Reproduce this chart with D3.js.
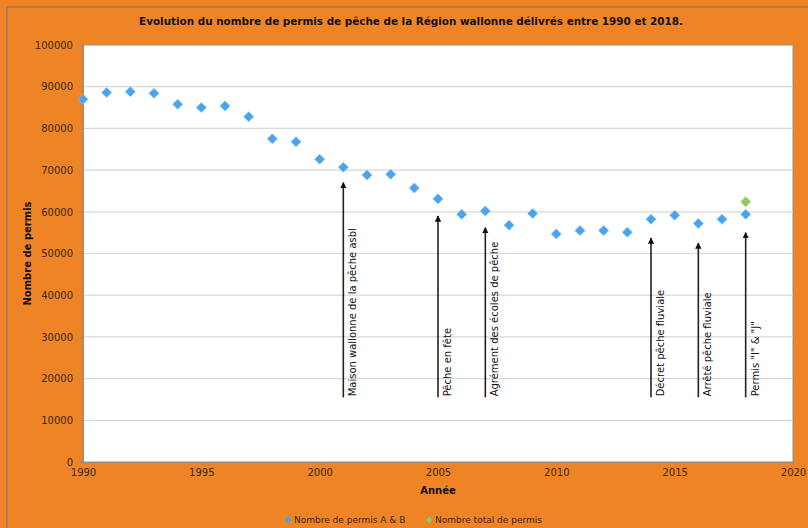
<html>
<head>
<meta charset="utf-8">
<script src="https://cdn.jsdelivr.net/npm/d3@7"></script>
<style>
  body { margin: 0; background: #ee8426; }
  text { font-family: "DejaVu Sans", sans-serif; }
</style>
</head>
<body>
<div id="chart"></div>
<script>
// annual values
var years = [1990,1991,1992,1993,1994,1995,1996,1997,1998,1999,2000,2001,2002,2003,2004,
             2005,2006,2007,2008,2009,2010,2011,2012,2013,2014,2015,2016,2017,2018];
var permisAB = [87000,88600,88800,88400,85800,85000,85400,82800,77500,76800,72600,70700,68800,69000,65700,
                63100,59400,60200,56800,59600,54700,55500,55500,55100,58200,59200,57200,58200,59400];
var totalYears = [2018];
var totalPermis = [62400];

// events drawn as arrows
var eventYears = [2001, 2005, 2007, 2014, 2016, 2018];
var eventLabels = ["Maison wallonne de la pêche asbl", "Pêche en fête", "Agrément des écoles de pêche",
                   "Décret pêche fluviale", "Arrêté pêche fluviale", "Permis \"I\" & \"J\""];
var eventTops = [67000, 59000, 56200, 53700, 52500, 55000];
var eventBase = 15500;

var yTicks = [0,10000,20000,30000,40000,50000,60000,70000,80000,90000,100000];
var xTicks = [1990,1995,2000,2005,2010,2015,2020];

var W = 808, H = 528;
var margin = {top: 45, right: 15, bottom: 66, left: 83};

var svg = d3.select("#chart").append("svg")
  .attr("width", W).attr("height", H);

svg.append("rect").attr("width", W).attr("height", H).attr("fill", "#ee8426");
// frame edges visible in the crop
svg.append("line").attr("x1", 7).attr("x2", W).attr("y1", 7).attr("y2", 7)
  .attr("stroke", "#9a7a5a").attr("stroke-width", 1.5);
svg.append("line").attr("x1", 7).attr("x2", 7).attr("y1", 7).attr("y2", H)
  .attr("stroke", "#9a7a5a").attr("stroke-width", 1.5);

var x = d3.scaleLinear().domain([1990, 2020]).range([margin.left, W - margin.right]);
var y = d3.scaleLinear().domain([0, 100000]).range([H - margin.bottom, margin.top]);

// plot area
svg.append("rect")
  .attr("x", x(1990)).attr("y", y(100000))
  .attr("width", x(2020) - x(1990)).attr("height", y(0) - y(100000))
  .attr("fill", "white").attr("stroke", "#a08a78").attr("stroke-width", 1);

// gridlines
svg.append("g").selectAll("line")
  .data(yTicks.filter(function(d) { return d > 0 && d < 100000; }))
  .enter().append("line")
    .attr("x1", x(1990)).attr("x2", x(2020))
    .attr("y1", function(d) { return y(d); }).attr("y2", function(d) { return y(d); })
    .attr("stroke", "#d8d8d8").attr("stroke-width", 1.2);

// axes
var yAxis = svg.append("g")
  .attr("transform", "translate(" + x(1990) + ",0)")
  .call(d3.axisLeft(y).tickValues(yTicks).tickSize(4).tickPadding(6).tickFormat(d3.format("d")));
var xAxis = svg.append("g")
  .attr("transform", "translate(0," + y(0) + ")")
  .call(d3.axisBottom(x).tickValues(xTicks).tickSize(3).tickPadding(4).tickFormat(d3.format("d")));
[yAxis, xAxis].forEach(function(a) {
  a.select(".domain").attr("stroke", "#a08a78");
  a.selectAll(".tick line").attr("stroke", "#a08a78");
  a.selectAll("text").attr("fill", "#3a2a1a").style("font-size", "10px").style("font-family", "DejaVu Sans");
});

// arrows
svg.append("defs").append("marker")
  .attr("id", "head").attr("viewBox", "0 0 10 10").attr("refX", 9).attr("refY", 5)
  .attr("markerWidth", 4).attr("markerHeight", 4).attr("orient", "auto")
  .append("path").attr("d", "M0,0 L10,5 L0,10 Z").attr("fill", "#111");

var ev = svg.append("g").selectAll("g")
  .data(eventYears.map(function(d, i) { return {year: d, label: eventLabels[i], top: eventTops[i]}; }))
  .enter().append("g");
ev.append("line")
  .attr("x1", function(d) { return x(d.year); }).attr("x2", function(d) { return x(d.year); })
  .attr("y1", y(eventBase)).attr("y2", function(d) { return y(d.top); })
  .attr("stroke", "#222").attr("stroke-width", 1.6)
  .attr("marker-end", "url(#head)");
ev.append("text")
  .attr("transform", function(d) { return "translate(" + (x(d.year) + 13) + "," + (y(eventBase) - 1) + ") rotate(-90)"; })
  .style("font-size", "10px").attr("fill", "#111")
  .text(function(d) { return d.label; });

// markers
function diamond(cx, cy, r) {
  return "M" + cx + "," + (cy - r) + "L" + (cx + r) + "," + cy + "L" + cx + "," + (cy + r) + "L" + (cx - r) + "," + cy + "Z";
}
svg.append("g").selectAll("path")
  .data(years.map(function(d, i) { return {year: d, v: permisAB[i]}; }))
  .enter().append("path")
    .attr("d", function(d) { return diamond(x(d.year), y(d.v), 5); })
    .attr("fill", "#4aa3ec").attr("stroke", "#7cc0f4").attr("stroke-width", 0.8);
svg.append("g").selectAll("path")
  .data(totalYears.map(function(d, i) { return {year: d, v: totalPermis[i]}; }))
  .enter().append("path")
    .attr("d", function(d) { return diamond(x(d.year), y(d.v), 5); })
    .attr("fill", "#8cc866").attr("stroke", "#a8d88a").attr("stroke-width", 0.8);

// title & axis titles
svg.append("text").attr("x", 411).attr("y", 25).attr("text-anchor", "middle")
  .style("font-size", "10.4px").style("font-weight", "bold").attr("fill", "#111")
  .text("Evolution du nombre de permis de pêche de la Région wallonne délivrés entre 1990 et 2018.");
svg.append("text").attr("x", 438).attr("y", 494).attr("text-anchor", "middle")
  .style("font-size", "10px").style("font-weight", "bold").attr("fill", "#111")
  .text("Année");
svg.append("text").attr("transform", "translate(31," + y(50000) + ") rotate(-90)")
  .attr("text-anchor", "middle")
  .style("font-size", "10px").style("font-weight", "bold").attr("fill", "#111")
  .text("Nombre de permis");

// legend
var legend = [{label: "Nombre de permis A & B", fill: "#4aa3ec", x: 288},
              {label: "Nombre total de permis", fill: "#8cc866", x: 429}];
var lg = svg.append("g").selectAll("g").data(legend).enter().append("g");
lg.append("path").attr("d", function(d) { return diamond(d.x, 520, 3.5); }).attr("fill", function(d) { return d.fill; });
lg.append("text").attr("x", function(d) { return d.x + 6; }).attr("y", 523)
  .style("font-size", "9px").attr("fill", "#3a2a1a").text(function(d) { return d.label; });
</script>
</body>
</html>
